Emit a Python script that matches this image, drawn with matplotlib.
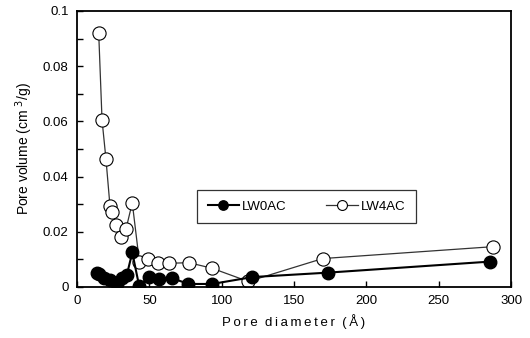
import matplotlib.pyplot as plt
from matplotlib.ticker import MultipleLocator, FormatStrFormatter

plt.rcParams["font.family"] = ["Liberation Sans", "DejaVu Sans"]

# LW0AC (filled circles)
lw0_diameter = [13.5, 15.4, 18.9, 22.8, 27.6, 31.0, 34.4, 38.2, 42.9, 49.8,
                57.0, 65.7, 77.0, 93.4, 121.3, 173.3, 285.5]
lw0_volume = [0.0050, 0.0047, 0.0032, 0.0025, 0.0011, 0.0033, 0.0043, 0.0125,
              0.0005, 0.0036, 0.0029, 0.0032, 0.0011, 0.0011, 0.0036, 0.0052,
              0.0092]

# LW4AC (open circles)
lw4_diameter = [15.0, 17.3, 20.0, 22.8, 24.4, 26.8, 30.2, 33.9, 38.2, 43.1,
                48.9, 55.8, 63.8, 77.4, 93.3, 118.4, 169.8, 287.3]
lw4_volume = [0.0920, 0.0605, 0.0464, 0.0293, 0.0270, 0.0225, 0.0180, 0.0211,
              0.0305, 0.0092, 0.0102, 0.0088, 0.0086, 0.0088, 0.0068, 0.0020,
              0.0103, 0.0146]

fig = plt.figure(figsize=(5.3, 3.38), dpi=100)
ax = fig.add_axes([0.1453, 0.1509, 0.8189, 0.8166])

ax.plot(lw0_diameter, lw0_volume, color="black", lw=1.5, marker="o",
        markersize=9, markerfacecolor="black", markeredgecolor="black",
        label="LW0AC", zorder=3)
ax.plot(lw4_diameter, lw4_volume, color="#333333", lw=0.9, marker="o",
        markersize=9.5, markerfacecolor="white", markeredgecolor="black",
        markeredgewidth=0.8, label="LW4AC", zorder=2)

ax.set_xlim(0, 300)
ax.set_ylim(0, 0.1)
ax.xaxis.set_major_locator(MultipleLocator(50))
ax.yaxis.set_major_locator(MultipleLocator(0.02))
ax.yaxis.set_minor_locator(MultipleLocator(0.01))
ax.yaxis.set_major_formatter(FormatStrFormatter("%g"))
ax.tick_params(direction="in", length=4, width=1, labelsize=9.5, pad=6)
ax.tick_params(which="minor", direction="in", length=4, width=1)
for spine in ax.spines.values():
    spine.set_linewidth(1.3)

# letter-spaced label, as in the source figure
thin = "\u2009"
xlabel = "  ".join(thin.join(word) for word in ["Pore", "diameter", "(Å)"])
ax.set_xlabel(xlabel, fontsize=9.5, labelpad=5)
ax.set_ylabel("Pore volume (cm $^{3}$/g)", fontsize=10, labelpad=6)

leg = ax.legend(loc="upper left", bbox_to_anchor=(0.2765, 0.351), ncol=2,
                frameon=True, fancybox=False, edgecolor="black", fontsize=9.5,
                handlelength=2.4, columnspacing=3.0, borderpad=0.8,
                handletextpad=0.2, markerscale=0.75, borderaxespad=0)
leg.get_frame().set_linewidth(0.9)

fig.savefig("out.png", dpi=100)
